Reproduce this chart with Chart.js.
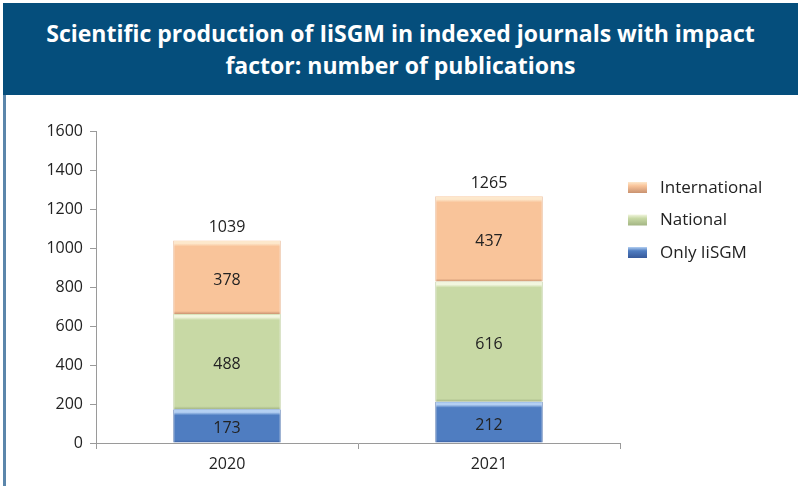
<!DOCTYPE html>
<html>
<head>
<meta charset="utf-8">
<script src="https://cdn.jsdelivr.net/npm/chart.js@4.4.1/dist/chart.umd.min.js"></script>
<style>
  html, body { margin: 0; padding: 0; background: #fff; }
  body { width: 798px; height: 486px; position: relative; overflow: hidden; }
  #header {
    position: absolute; left: 3px; top: 3px; width: 795px; height: 92px;
    background: #054e7c; color: #fff;
    font-family: "Open Sans", sans-serif; font-weight: 700; font-size: 23px;
    line-height: 32px; text-align: center;
    display: flex; align-items: center; justify-content: center;
  }
  #sidebar { position: absolute; left: 3px; top: 95px; width: 3px; height: 391px; background: #5b86ab; }
  #wrap { position: absolute; left: 8px; top: 96px; width: 790px; height: 390px; }
</style>
</head>
<body>
<div id="header">Scientific production of IiSGM in indexed journals with impact<br>factor: number of publications</div>
<div id="sidebar"></div>
<div id="wrap"><canvas id="chart" width="790" height="390"></canvas></div>
<script>
// data
const years        = ["2020", "2021"];
const onlyIisgm    = [173, 212];
const national     = [488, 616];
const international = [378, 437];
const totals       = [1039, 1265];
const yTicks       = [0, 200, 400, 600, 800, 1000, 1200, 1400, 1600];

const FONT = "'Open Sans', sans-serif";

// highlight, body, bottom edge, side edge
const shades = {
  blue:   ["#b4d0f2", "#4f7dc1", "#36599a", "#3e66a6"],
  green:  ["#f2f6df", "#c8d9a5", "#a3b584", "#b4c690"],
  orange: ["#fde8cc", "#f9c49a", "#c99270", "#e5ab80"]
};

function segmentFill(ctx, key, below) {
  const chart = ctx.chart;
  const area = chart.chartArea;
  if (!area || ctx.dataIndex === undefined) return shades[key][1];
  const y = chart.scales.y;
  const base = below.reduce((s, arr) => s + arr[ctx.dataIndex], 0);
  const val = ctx.dataset.data[ctx.dataIndex];
  const top = y.getPixelForValue(base + val);
  const bot = y.getPixelForValue(base);
  const h = bot - top;
  const g = chart.ctx.createLinearGradient(0, top, 0, bot);
  const c = shades[key];
  g.addColorStop(0, c[1]);
  g.addColorStop(1 / h, c[0]);
  g.addColorStop(3 / h, c[0]);
  g.addColorStop(6 / h, c[1]);
  g.addColorStop(1 - 3 / h, c[1]);
  g.addColorStop(1, c[2]);
  return g;
}

const labelPlugin = {
  id: "labels",
  afterDatasetsDraw(chart) {
    const c = chart.ctx;
    c.save();
    c.font = "16px " + FONT;
    c.fillStyle = "#222";
    c.textAlign = "center";
    c.textBaseline = "middle";
    chart.data.datasets.forEach((ds, i) => {
      chart.getDatasetMeta(i).data.forEach((bar, j) => {
        const mid = (bar.y + bar.base) / 2;
        c.fillText(ds.data[j], bar.x, mid + 3);
      });
    });
    const topMeta = chart.getDatasetMeta(chart.data.datasets.length - 1);
    topMeta.data.forEach((bar, j) => {
      c.fillText(totals[j], bar.x, bar.y - 13);
    });
    c.restore();
  }
};

const legendPlugin = {
  id: "sideLegend",
  afterDraw(chart) {
    const c = chart.ctx;
    c.save();
    c.font = "17px " + FONT;
    c.textBaseline = "middle";
    const items = chart.data.datasets.slice().reverse();
    items.forEach((ds, k) => {
      const y = 91 + k * 32.5;
      const key = ds.shadeKey;
      const g = c.createLinearGradient(0, y - 5, 0, y + 6);
      g.addColorStop(0, shades[key][0]);
      g.addColorStop(0.35, shades[key][1]);
      g.addColorStop(1, shades[key][2]);
      c.fillStyle = g;
      c.fillRect(620, y - 5, 19, 11);
      c.fillStyle = "#222";
      c.fillText(ds.label, 652, y + 1);
    });
    c.restore();
  }
};

new Chart(document.getElementById("chart"), {
  type: "bar",
  data: {
    labels: years,
    datasets: [
      { label: "Only IiSGM", data: onlyIisgm, shadeKey: "blue",
        borderColor: shades.blue[3],
        backgroundColor: ctx => segmentFill(ctx, "blue", []) },
      { label: "National", data: national, shadeKey: "green",
        borderColor: shades.green[3],
        backgroundColor: ctx => segmentFill(ctx, "green", [onlyIisgm]) },
      { label: "International", data: international, shadeKey: "orange",
        borderColor: shades.orange[3],
        backgroundColor: ctx => segmentFill(ctx, "orange", [onlyIisgm, national]) }
    ]
  },
  options: {
    responsive: false,
    animation: false,
    devicePixelRatio: 1,
    layout: { padding: { top: 35, right: 178, left: 0, bottom: 0 } },
    barPercentage: 1,
    categoryPercentage: 0.41,
    borderSkipped: false,
    borderWidth: { left: 1, right: 1, top: 0, bottom: 0 },
    scales: {
      x: {
        stacked: true,
        grid: { display: true, drawOnChartArea: false, offset: true, tickLength: 6, color: "#9a9a9a" },
        border: { color: "#9a9a9a", width: 1 },
        ticks: { color: "#222", font: { family: FONT, size: 16 }, padding: 6 },
        afterFit: s => { s.height = 43; }
      },
      y: {
        stacked: true,
        min: 0, max: 1600,
        afterBuildTicks: s => { s.ticks = yTicks.map(v => ({ value: v })); },
        grid: { display: true, drawOnChartArea: false, tickLength: 6, color: "#9a9a9a" },
        border: { color: "#9a9a9a", width: 1 },
        ticks: { color: "#222", font: { family: FONT, size: 16 }, padding: 7, callback: v => String(v) },
        afterFit: s => { s.width = 88; }
      }
    },
    plugins: {
      legend: { display: false },
      tooltip: { enabled: false }
    }
  },
  plugins: [labelPlugin, legendPlugin]
});
</script>
</body>
</html>
